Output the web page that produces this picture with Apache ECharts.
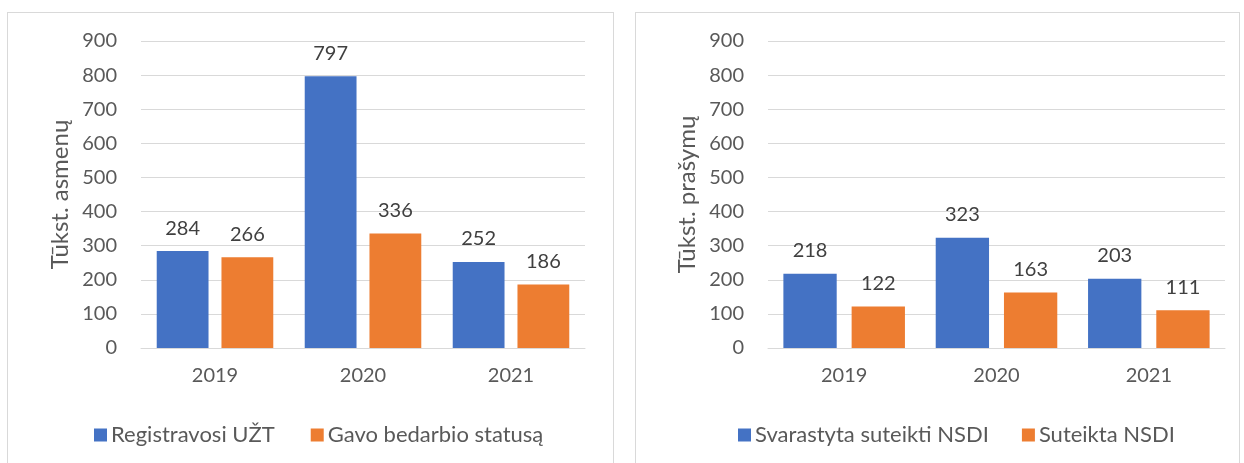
<!DOCTYPE html>
<html>
<head>
<meta charset="utf-8">
<script src="https://cdn.jsdelivr.net/npm/echarts@6/dist/echarts.min.js"></script>
<style>
  html, body { margin: 0; padding: 0; background: #fff; overflow: hidden; }
  .panel {
    position: absolute;
    top: 12px;
    height: 470px;
    border: 1px solid #d9d9d9;
    box-sizing: border-box;
  }
  #chart { position: absolute; left: 0; top: 0; width: 1244px; height: 463px; }
</style>
</head>
<body>
<div class="panel" style="left:7px;width:607px"></div>
<div class="panel" style="left:635px;width:605px"></div>
<div id="chart"></div>
<script>
const years = ['2019', '2020', '2021']
const yTicks = [0, 100, 200, 300, 400, 500, 600, 700, 800, 900]

// left panel, thousand persons
const registered = [284, 797, 252]
const gotStatus = [266, 336, 186]

// right panel, thousand applications
const considered = [218, 323, 203]
const granted = [122, 163, 111]

const blue = '#4472c4'
const orange = '#ed7d31'
const ink = '#595959'
const grid = '#d9d9d9'
const font = 'Lato'

function xAxis(idx) {
  return {
    type: 'category',
    gridIndex: idx,
    data: years,
    axisLine: { lineStyle: { color: grid } },
    axisTick: { show: false },
    axisLabel: { color: ink, fontFamily: font, fontSize: 20, margin: 18 }
  }
}

function yAxis(idx, name, gap) {
  return {
    type: 'value',
    gridIndex: idx,
    min: yTicks[0],
    max: yTicks[yTicks.length - 1],
    interval: 100,
    name: name,
    nameLocation: 'middle',
    nameRotate: 90,
    nameGap: gap,
    nameTextStyle: { color: ink, fontFamily: font, fontSize: 24 },
    axisLine: { show: false },
    axisTick: { show: false },
    splitLine: { lineStyle: { color: grid, width: 1 } },
    axisLabel: { color: ink, fontFamily: font, fontSize: 20, margin: 24 }
  }
}

function bars(name, data, color, idx, gap) {
  return {
    name: name,
    type: 'bar',
    xAxisIndex: idx,
    yAxisIndex: idx,
    data: data,
    barWidth: '35%',
    barGap: gap,
    itemStyle: { color: color },
    label: {
      show: true,
      position: 'top',
      distance: 13,
      color: '#404040',
      fontFamily: font,
      fontSize: 20
    }
  }
}

function legend(names, left, gap) {
  return {
    data: names,
    left: left,
    top: 419,
    itemWidth: 13,
    itemHeight: 13,
    itemGap: gap,
    icon: 'rect',
    textStyle: { color: ink, fontFamily: font, fontSize: 22, padding: [0, 0, 0, -1] }
  }
}

const chart = echarts.init(document.getElementById('chart'))
chart.setOption({
  animation: false,
  grid: [
    { left: 141, top: 41, width: 444, height: 307 },
    { left: 768, top: 41, width: 457, height: 307 }
  ],
  legend: [
    legend(['Registravosi UŽT', 'Gavo bedarbio statusą'], 89, 36),
    legend(['Svarastyta suteikti NSDI', 'Suteikta NSDI'], 733, 33)
  ],
  xAxis: [xAxis(0), xAxis(1)],
  yAxis: [yAxis(0, 'Tūkst. asmenų', 69), yAxis(1, 'Tūkst. prašymų', 69)],
  series: [
    bars('Registravosi UŽT', registered, blue, 0, '25%'),
    bars('Gavo bedarbio statusą', gotStatus, orange, 0, '25%'),
    bars('Svarastyta suteikti NSDI', considered, blue, 1, '28%'),
    bars('Suteikta NSDI', granted, orange, 1, '28%')
  ]
})
</script>
</body>
</html>
